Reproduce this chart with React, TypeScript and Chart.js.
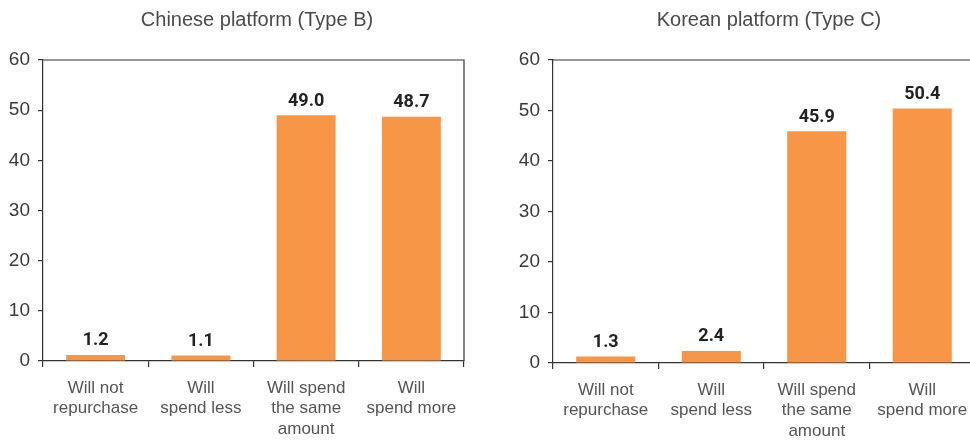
import React, { useEffect, useRef } from "react";
import { Chart, registerables } from "chart.js";

Chart.register(...registerables);

const categories: string[][] = [
  ["Will not", "repurchase"],
  ["Will", "spend less"],
  ["Will spend", "the same", "amount"],
  ["Will", "spend more"],
];
const chineseValues = [1.2, 1.1, 49.0, 48.7];
const koreanValues = [1.3, 2.4, 45.9, 50.4];
const yMin = 0;
const yMax = 60;
const yStep = 10;
const chineseTitle = "Chinese platform (Type B)";
const koreanTitle = "Korean platform (Type C)";

const FONT = "'Liberation Sans', Arial, sans-serif";
const LABEL_FONT = "Roboto, 'DejaVu Sans', sans-serif";
const BAR_COLOR = "#F79646";
const AXIS_COLOR = "#333333";

type PanelProps = {
  title: string;
  values: number[];
  left: number;
  width: number;
  yAxisWidth: number;
  xAxisHeight: number;
  padRight: number;
  titleX: number;
};

function Panel({ title, values, left, width, yAxisWidth, xAxisHeight, padRight, titleX }: PanelProps) {
  const ref = useRef<HTMLCanvasElement | null>(null);
  useEffect(() => {
    if (!ref.current) return;
    const framePlugin = {
      id: "frame",
      afterDraw(chart: any) {
        const { ctx, chartArea } = chart;
        ctx.save();
        ctx.strokeStyle = AXIS_COLOR;
        ctx.lineWidth = 1.2;
        ctx.beginPath();
        ctx.moveTo(chartArea.left, chartArea.top);
        ctx.lineTo(chartArea.right, chartArea.top);
        ctx.lineTo(chartArea.right, chartArea.bottom);
        ctx.stroke();
        ctx.restore();
      },
    };
    const titlePlugin = {
      id: "panelTitle",
      afterDraw(chart: any) {
        const { ctx } = chart;
        ctx.save();
        ctx.fillStyle = "#4a4a4a";
        ctx.font = `20px ${FONT}`;
        ctx.textAlign = "center";
        ctx.textBaseline = "middle";
        ctx.fillText(title, titleX, 20);
        ctx.restore();
      },
    };
    const valueLabels = {
      id: "valueLabels",
      afterDatasetsDraw(chart: any) {
        const { ctx } = chart;
        const meta = chart.getDatasetMeta(0);
        ctx.save();
        ctx.fillStyle = "#222";
        ctx.font = `bold 18px ${LABEL_FONT}`;
        ctx.textAlign = "center";
        ctx.textBaseline = "bottom";
        meta.data.forEach((bar: any, i: number) => {
          ctx.fillText(values[i].toFixed(1), bar.x, bar.y - 5);
        });
        ctx.restore();
      },
    };
    const chart = new Chart(ref.current, {
      type: "bar",
      data: {
        labels: categories,
        datasets: [
          {
            data: values,
            backgroundColor: BAR_COLOR,
            borderWidth: 0,
            barPercentage: 0.56,
            categoryPercentage: 1,
          },
        ],
      },
      options: {
        responsive: false,
        animation: false,
        layout: { padding: { top: 60, right: padRight, bottom: 0, left: 0 } },
        plugins: {
          legend: { display: false },
          tooltip: { enabled: false },
          title: { display: false },
        },
        scales: {
          x: {
            ticks: {
              color: "#555",
              font: { size: 17, family: FONT, lineHeight: 1.2 },
              padding: 11,
              maxRotation: 0,
              autoSkip: false,
            },
            grid: { drawOnChartArea: false, tickLength: 6, color: AXIS_COLOR, offset: true, lineWidth: 1.2 },
            border: { color: AXIS_COLOR, width: 1.2 },
            afterFit: (s: any) => {
              s.height = xAxisHeight;
            },
          },
          y: {
            min: yMin,
            max: yMax,
            ticks: {
              stepSize: yStep,
              color: "#3a3a3a",
              font: { size: 19, family: FONT },
              padding: 8,
            },
            grid: { drawOnChartArea: false, tickLength: 5, color: AXIS_COLOR, lineWidth: 1.2 },
            border: { color: AXIS_COLOR, width: 1.2 },
            afterFit: (s: any) => {
              s.width = yAxisWidth;
            },
          },
        },
      },
      plugins: [framePlugin, titlePlugin, valueLabels],
    });
    return () => chart.destroy();
  }, []);
  return (
    <div style={{ position: "absolute", left, top: 0, width, height: 442 }}>
      <canvas ref={ref} width={width} height={442} style={{ width, height: 442, display: "block" }} />
    </div>
  );
}

export default function App() {
  return (
    <div
      style={{
        position: "absolute",
        left: 0,
        top: 0,
        width: 970,
        height: 442,
        overflow: "hidden",
        background: "#fff",
      }}
    >
      <Panel
        title={chineseTitle}
        values={chineseValues}
        left={0}
        width={480}
        yAxisWidth={43}
        xAxisHeight={81}
        padRight={16}
        titleX={257}
      />
      <Panel
        title={koreanTitle}
        values={koreanValues}
        left={490}
        width={500}
        yAxisWidth={63}
        xAxisHeight={79}
        padRight={15}
        titleX={279}
      />
    </div>
  );
}
